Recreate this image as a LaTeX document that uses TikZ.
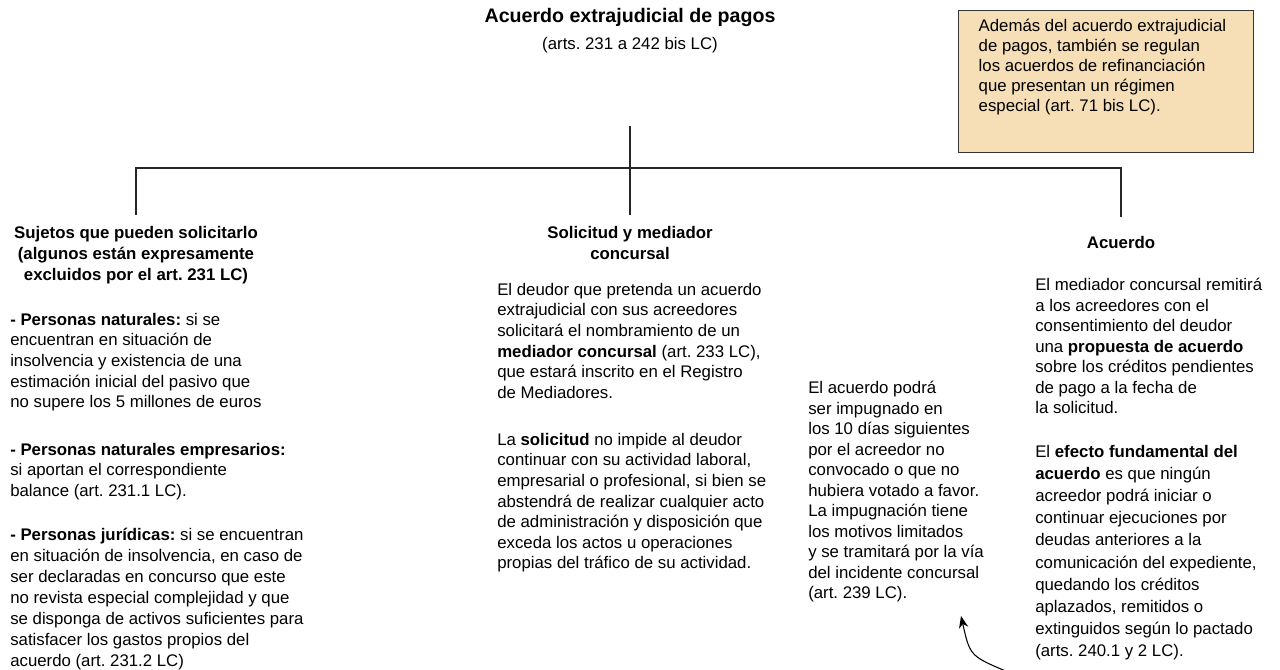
\documentclass[tikz,border=0pt]{standalone}
\usepackage{fontspec}
\setmainfont{Liberation Sans}
\usetikzlibrary{arrows.meta}
\definecolor{notefill}{RGB}{246,223,182}
\frenchspacing

\begin{document}
\begin{tikzpicture}[
  x=0.75pt, y=-0.75pt,
  every node/.style={inner sep=0pt, text=black, font=\fontsize{12.6pt}{15.4pt}\selectfont},
  body/.style={anchor=north west, align=left},
  head/.style={anchor=north, align=center, inner ysep=8pt, font=\fontsize{12.6pt}{15.8pt}\selectfont\bfseries},
  branch/.style={line width=1.1pt, draw=black!85},
  pointer/.style={line width=0.8pt, -{Stealth[length=9pt, width=7pt]}}
]
  \useasboundingbox (0,0) rectangle (1280,670);

  \node[font=\fontsize{14.7pt}{17pt}\selectfont\bfseries] (title) at (630,17) {Acuerdo extrajudicial de pagos};
  \node (arts) at (630,45) {(arts. 231 a 242 bis LC)};

  \node[draw=black!80, line width=1pt, fill=notefill, anchor=north west, inner xsep=15pt, inner ysep=6pt] (note) at (958,10)
    {\parbox[t][94.5pt][t]{191pt}{\raggedright\fontsize{12.6pt}{15pt}\selectfont
      Además del acuerdo extrajudicial\\de pagos, también se regulan\\los acuerdos de refinanciación\\que presentan un régimen\\especial (art. 71 bis LC).}};

  \node[head] (sujetos) at (136,215) {Sujetos que pueden solicitarlo\\(algunos están expresamente\\excluidos por el art. 231 LC)};
  \node[head] (solicitud) at (630,215) {Solicitud y mediador\\concursal};
  \node[head, inner ysep=14pt] (acuerdo) at (1121,217) {Acuerdo};

  \node[body] (naturales) at (10,313) {\textbf{- Personas naturales:} si se\\encuentran en situación de\\insolvencia y existencia de una\\estimación inicial del pasivo que\\no supere los 5 millones de euros};
  \node[body] (empresarios) at (10,443) {\textbf{- Personas naturales empresarios:}\\si aportan el correspondiente\\balance (art. 231.1 LC).};
  \node[body, font=\fontsize{12.6pt}{15.8pt}\selectfont] (juridicas) at (10,528) {\textbf{- Personas jurídicas:} si se encuentran\\en situación de insolvencia, en caso de\\ser declaradas en concurso que este\\no revista especial complejidad y que\\se disponga de activos suficientes para\\satisfacer los gastos propios del\\acuerdo (art. 231.2 LC)};

  \node[body] (deudor) at (497,283) {El deudor que pretenda un acuerdo\\extrajudicial con sus acreedores\\solicitará el nombramiento de un\\\textbf{mediador concursal} (art. 233 LC),\\que estará inscrito en el Registro\\de Mediadores.};
  \node[body] (peticion) at (497,433) {La \textbf{solicitud} no impide al deudor\\continuar con su actividad laboral,\\empresarial o profesional, si bien se\\abstendrá de realizar cualquier acto\\de administración y disposición que\\exceda los actos u operaciones\\propias del tráfico de su actividad.};

  \node[body] (impugnacion) at (808,381) {El acuerdo podrá\\ser impugnado en\\los 10 días siguientes\\por el acreedor no\\convocado o que no\\hubiera votado a favor.\\La impugnación tiene\\los motivos limitados\\y se tramitará por la vía\\del incidente concursal\\(art. 239 LC).};

  \node[body] (propuesta) at (1035,278) {El mediador concursal remitirá\\a los acreedores con el\\consentimiento del deudor\\una \textbf{propuesta de acuerdo}\\sobre los créditos pendientes\\de pago a la fecha de\\la solicitud.};
  \node[body, font=\fontsize{12.6pt}{16.6pt}\selectfont] (efecto) at (1035,445) {El \textbf{efecto fundamental del}\\\textbf{acuerdo} es que ningún\\acreedor podrá iniciar o\\continuar ejecuciones por\\deudas anteriores a la\\comunicación del expediente,\\quedando los créditos\\aplazados, remitidos o\\extinguidos según lo pactado\\(arts. 240.1 y 2 LC).};

  \coordinate (hub) at (630,126);
  \coordinate (fork) at (630,168);
  \coordinate (tail) at (1008,672);
  \coordinate (tip) at (961,616);

  \draw[branch] (hub) -- (fork);
  \draw[branch] (fork) -- (solicitud.north);
  \draw[branch] (fork) -| (sujetos.north);
  \draw[branch] (fork) -| (acuerdo.north);
  \draw[pointer] (tail) .. controls (970,656) .. (tip);
\end{tikzpicture}
\end{document}
